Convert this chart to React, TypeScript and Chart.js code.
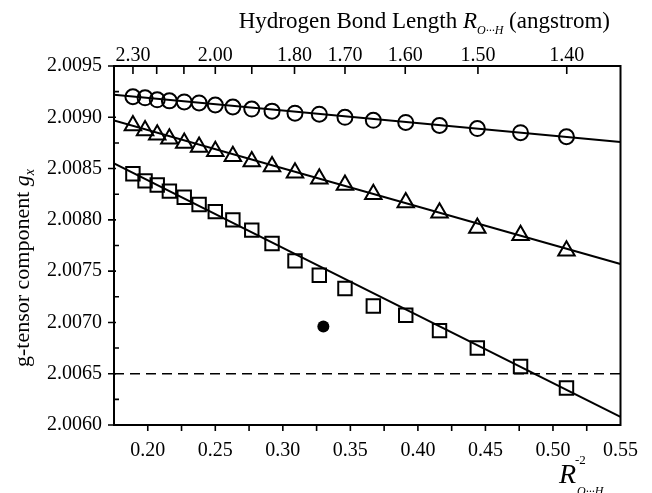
import React, { useEffect, useRef } from 'react';
import { Chart, registerables } from 'chart.js';

Chart.register(...registerables);

// Inverse-square bond length R^-2 for each computed structure
const xValues = [0.189, 0.198, 0.207, 0.216, 0.227, 0.238, 0.250, 0.263, 0.277, 0.292, 0.309, 0.327, 0.346, 0.367, 0.391, 0.416, 0.444, 0.476, 0.510];
const circleValues = [2.00920, 2.00919, 2.00917, 2.00916, 2.00915, 2.00914, 2.00912, 2.00910, 2.00908, 2.00906, 2.00904, 2.00903, 2.00900, 2.00897, 2.00895, 2.00892, 2.00889, 2.00885, 2.00881];
const triangleValues = [2.00892, 2.00887, 2.00883, 2.00879, 2.00875, 2.00871, 2.00867, 2.00862, 2.00857, 2.00852, 2.00846, 2.00840, 2.00834, 2.00825, 2.00817, 2.00807, 2.00792, 2.00785, 2.00770];
const squareValues = [2.00845, 2.00838, 2.00834, 2.00828, 2.00822, 2.00815, 2.00808, 2.00800, 2.00790, 2.00777, 2.00760, 2.00746, 2.00733, 2.00716, 2.00707, 2.00692, 2.00675, 2.00657, 2.00636];

const fitX = [0.175, 0.55];
const circleFit = [2.00922, 2.00876];
const triangleFit = [2.00897, 2.00757];
const squareFit = [2.00855, 2.00608];
const thresholdY = [2.0065, 2.0065];
const experimentX = [0.330];
const experimentY = [2.00696];

const xMin = 0.175;
const xMax = 0.55;
const yMin = 2.006;
const yMax = 2.0095;
const bottomTicks = [0.20, 0.25, 0.30, 0.35, 0.40, 0.45, 0.50, 0.55];
const bottomMinorTicks = [0.200, 0.225, 0.250, 0.275, 0.300, 0.325, 0.350, 0.375, 0.400, 0.425, 0.450, 0.475, 0.500, 0.525];
const yTicks = [2.0060, 2.0065, 2.0070, 2.0075, 2.0080, 2.0085, 2.0090, 2.0095];
const yMinorTicks = [2.00625, 2.00675, 2.00725, 2.00775, 2.00825, 2.00875, 2.00925];
const topLabeledBondLengths = [2.30, 2.00, 1.80, 1.70, 1.60, 1.50, 1.40];
const topTickBondLengths = [2.30, 2.20, 2.10, 2.00, 1.90, 1.80, 1.70, 1.60, 1.50, 1.40];

const SERIF = '"Liberation Serif", "Times New Roman", serif';
const W = 652;
const H = 493;

type Seg = { t: string; font: string; dy?: number };

function segWidth(ctx: CanvasRenderingContext2D, segs: Seg[]) {
  let w = 0;
  for (const s of segs) {
    ctx.font = s.font;
    w += ctx.measureText(s.t).width;
  }
  return w;
}

function drawSegs(ctx: CanvasRenderingContext2D, segs: Seg[], x: number, y: number) {
  let cx = x;
  for (const s of segs) {
    ctx.font = s.font;
    ctx.fillText(s.t, cx, y + (s.dy || 0));
    cx += ctx.measureText(s.t).width;
  }
}

const decorPlugin = {
  id: 'decor',
  afterDraw(chart: any) {
    const ctx: CanvasRenderingContext2D = chart.ctx;
    const { left, right, top, bottom } = chart.chartArea;
    const xs = chart.scales.x;
    const ys = chart.scales.y;
    ctx.save();
    ctx.strokeStyle = '#000';
    ctx.fillStyle = '#000';
    ctx.lineWidth = 2;
    ctx.setLineDash([]);
    ctx.strokeRect(left, top, right - left, bottom - top);

    ctx.lineWidth = 1.6;
    ctx.beginPath();
    for (const v of bottomMinorTicks) {
      const px = xs.getPixelForValue(v);
      ctx.moveTo(px, bottom);
      ctx.lineTo(px, bottom + 6);
    }
    for (const r of topTickBondLengths) {
      const px = xs.getPixelForValue(1 / (r * r));
      ctx.moveTo(px, top);
      ctx.lineTo(px, top + 8);
    }
    for (const v of yTicks) {
      const py = ys.getPixelForValue(v);
      ctx.moveTo(left - 6, py);
      ctx.lineTo(left + 2, py);
    }
    for (const v of yMinorTicks) {
      const py = ys.getPixelForValue(v);
      ctx.moveTo(left, py);
      ctx.lineTo(left + 5, py);
    }
    ctx.stroke();

    ctx.textBaseline = 'alphabetic';
    ctx.textAlign = 'left';
    // top title
    const title: Seg[] = [
      { t: 'Hydrogen Bond Length ', font: `23px ${SERIF}` },
      { t: 'R', font: `italic 23px ${SERIF}` },
      { t: 'O···H', font: `italic 12px ${SERIF}`, dy: 6 },
      { t: ' (angstrom)', font: `23px ${SERIF}` },
    ];
    const tw = segWidth(ctx, title);
    drawSegs(ctx, title, 610 - tw, 28);

    // y title
    const ytitle: Seg[] = [
      { t: 'g-tensor component ', font: `22px ${SERIF}` },
      { t: 'g', font: `italic 22px ${SERIF}` },
      { t: 'x', font: `italic 14px ${SERIF}`, dy: 5 },
    ];
    const yw = segWidth(ctx, ytitle);
    ctx.save();
    ctx.translate(29, 268);
    ctx.rotate(-Math.PI / 2);
    drawSegs(ctx, ytitle, -yw / 2, 0);
    ctx.restore();

    // bottom axis label
    ctx.font = `italic 28px ${SERIF}`;
    ctx.fillText('R', 559, 483);
    ctx.font = `13px ${SERIF}`;
    ctx.fillText('-2', 575, 464);
    ctx.font = `italic 12px ${SERIF}`;
    ctx.fillText('O···H', 577, 495);
    ctx.restore();
  },
};

export default function App() {
  const ref = useRef<HTMLCanvasElement | null>(null);
  useEffect(() => {
    document.body.style.margin = '0';
    const canvas = ref.current;
    if (!canvas) return;
    const toPts = (xsArr: number[], ysArr: number[]) => xsArr.map((x, i) => ({ x, y: ysArr[i] }));
    const tickFont = { family: SERIF, size: 20 };
    const chart = new Chart(canvas, {
      type: 'scatter',
      data: {
        datasets: [
          { data: toPts(fitX, circleFit), showLine: true, borderColor: '#000', borderWidth: 2, pointRadius: 0 },
          { data: toPts(fitX, triangleFit), showLine: true, borderColor: '#000', borderWidth: 2, pointRadius: 0 },
          { data: toPts(fitX, squareFit), showLine: true, borderColor: '#000', borderWidth: 2, pointRadius: 0 },
          { data: toPts(fitX, thresholdY), showLine: true, borderColor: '#000', borderWidth: 1.6, borderDash: [10, 6], pointRadius: 0 },
          { data: toPts(xValues, circleValues), pointStyle: 'circle', pointRadius: 7.5, borderColor: '#000', borderWidth: 2, backgroundColor: 'rgba(0,0,0,0)' },
          { data: toPts(xValues, triangleValues), pointStyle: 'triangle', pointRadius: 9.5, borderColor: '#000', borderWidth: 2, backgroundColor: 'rgba(0,0,0,0)' },
          { data: toPts(xValues, squareValues), pointStyle: 'rect', pointRadius: 9.5, borderColor: '#000', borderWidth: 2, backgroundColor: 'rgba(0,0,0,0)' },
          { data: toPts(experimentX, experimentY), pointStyle: 'circle', pointRadius: 6, borderColor: '#000', borderWidth: 0, backgroundColor: '#000' },
        ],
      },
      options: {
        responsive: false,
        animation: false,
        devicePixelRatio: 1,
        events: [],
        layout: { padding: { left: 0, right: 19, top: 0, bottom: 0 } },
        plugins: { legend: { display: false }, title: { display: false }, tooltip: { enabled: false } },
        scales: {
          x: {
            type: 'linear', position: 'bottom', min: xMin, max: xMax,
            grid: { display: false, drawTicks: false }, border: { display: false },
            afterBuildTicks: (s: any) => { s.ticks = bottomTicks.map((v) => ({ value: v })); },
            afterFit: (s: any) => { s.height = H - 425; },
            ticks: { font: tickFont, color: '#000', padding: 14, maxRotation: 0, autoSkip: false, callback: (v: any) => Number(v).toFixed(2) },
          },
          x2: {
            type: 'linear', position: 'top', min: xMin, max: xMax,
            grid: { display: false, drawTicks: false }, border: { display: false },
            afterBuildTicks: (s: any) => { s.ticks = topLabeledBondLengths.map((r) => ({ value: 1 / (r * r) })); },
            afterFit: (s: any) => { s.height = 66; },
            ticks: { font: tickFont, color: '#000', padding: -2, maxRotation: 0, autoSkip: false, callback: (_v: any, i: number) => topLabeledBondLengths[i].toFixed(2) },
          },
          y: {
            type: 'linear', position: 'left', min: yMin, max: yMax,
            grid: { display: false, drawTicks: false }, border: { display: false },
            afterBuildTicks: (s: any) => { s.ticks = yTicks.map((v) => ({ value: v })); },
            afterFit: (s: any) => { s.width = 114; },
            ticks: { font: tickFont, color: '#000', padding: 12, autoSkip: false, callback: (v: any) => Number(v).toFixed(4) },
          },
        },
      } as any,
      plugins: [decorPlugin],
    });
    return () => chart.destroy();
  }, []);
  return (
    <div style={{ position: 'fixed', left: 0, top: 0, width: W, height: H, background: '#fff' }}>
      <canvas ref={ref} width={W} height={H} style={{ width: W, height: H, display: 'block' }} />
    </div>
  );
}
